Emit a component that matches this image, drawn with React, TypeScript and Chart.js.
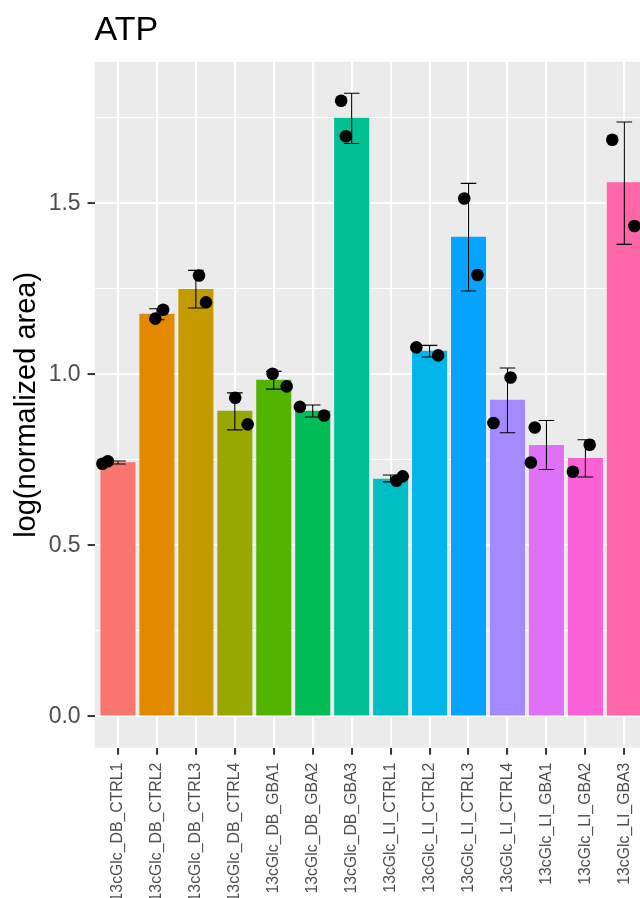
import React, { useEffect, useRef } from "react";
import { Chart, registerables } from "chart.js";

Chart.register(...registerables);

// ---------- data ----------
const categories = [
  "13cGlc_DB_CTRL1",
  "13cGlc_DB_CTRL2",
  "13cGlc_DB_CTRL3",
  "13cGlc_DB_CTRL4",
  "13cGlc_DB_GBA1",
  "13cGlc_DB_GBA2",
  "13cGlc_DB_GBA3",
  "13cGlc_LI_CTRL1",
  "13cGlc_LI_CTRL2",
  "13cGlc_LI_CTRL3",
  "13cGlc_LI_CTRL4",
  "13cGlc_LI_GBA1",
  "13cGlc_LI_GBA2",
  "13cGlc_LI_GBA3",
];

const barColors = [
  "#F8766D", "#E38900", "#C49A00", "#99A800", "#53B400", "#00BC56", "#00C094",
  "#00BFC4", "#00B6EB", "#06A4FF", "#A58AFF", "#DF70F8", "#FB61D7", "#FF66A8",
];

const means = [0.743, 1.1775, 1.25, 0.894, 0.9845, 0.894, 1.7506, 0.695, 1.069, 1.4026, 0.926, 0.7935, 0.7555, 1.5614];
const errLow = [0.738, 1.16, 1.194, 0.838, 0.957, 0.8755, 1.675, 0.686, 1.051, 1.244, 0.8295, 0.722, 0.7, 1.38];
const errHigh = [0.747, 1.192, 1.304, 0.946, 1.009, 0.9105, 1.822, 0.706, 1.085, 1.5585, 1.0187, 0.8655, 0.809, 1.738];

const pointsA = [0.739, 1.163, 1.289, 0.932, 1.002, 0.905, 1.8, 0.689, 1.079, 1.514, 0.858, 0.845, 0.7155, 1.686];
const jitterA = [-0.4, -0.04, 0.08, 0.01, -0.03, -0.33, -0.27, 0.15, -0.34, -0.11, -0.36, -0.3, -0.32, -0.31];
const pointsB = [0.746, 1.189, 1.2105, 0.854, 0.965, 0.88, 1.696, 0.702, 1.0556, 1.2906, 0.991, 0.7427, 0.7945, 1.434];
const jitterB = [-0.26, 0.16, 0.26, 0.33, 0.33, 0.29, -0.15, 0.31, 0.22, 0.23, 0.08, -0.4, 0.11, 0.26];

const yMajorTicks = [0, 0.5, 1.0, 1.5];
const yMajorLabels = ["0.0", "0.5", "1.0", "1.5"];
const yMinorTicks = [0.25, 0.75, 1.25, 1.75];
const yMin = -0.0911;
const yMax = 1.9132;

const titleText = "ATP";
const yTitleText = "log(normalized area)";

// ---------- styling ----------
const FONT = "'Liberation Sans', Arial, Helvetica, sans-serif";
const CANVAS_W = 660;
const CANVAS_H = 960;

const ggPlugin = {
  id: "ggStyle",
  beforeDraw(chart: any) {
    const { ctx, chartArea: a } = chart;
    ctx.save();
    ctx.fillStyle = "#EBEBEB";
    ctx.fillRect(a.left, a.top, a.right - a.left, a.bottom - a.top);
    ctx.restore();
  },
  afterDatasetDraw(chart: any, args: any) {
    if (args.index !== 0) return;
    const { ctx, chartArea: a } = chart;
    const xs = chart.scales.x;
    const ys = chart.scales.y;
    ctx.save();
    ctx.beginPath();
    ctx.rect(a.left, a.top, a.right - a.left, a.bottom - a.top);
    ctx.clip();
    ctx.strokeStyle = "#000000";
    ctx.lineWidth = 1.1;
    ctx.beginPath();
    categories.forEach((_, i) => {
      const xc = xs.getPixelForValue(i + 1);
      const xl = xs.getPixelForValue(i + 1 - 0.2);
      const xr = xs.getPixelForValue(i + 1 + 0.2);
      const yh = ys.getPixelForValue(errHigh[i]);
      const yl = ys.getPixelForValue(errLow[i]);
      ctx.moveTo(xl, yh);
      ctx.lineTo(xr, yh);
      ctx.moveTo(xc, yh);
      ctx.lineTo(xc, yl);
      ctx.moveTo(xl, yl);
      ctx.lineTo(xr, yl);
    });
    ctx.stroke();
    ctx.restore();
  },
  afterDraw(chart: any) {
    const { ctx, chartArea: a } = chart;
    ctx.save();
    ctx.fillStyle = "#000000";
    ctx.font = `34px ${FONT}`;
    ctx.textAlign = "left";
    ctx.textBaseline = "alphabetic";
    ctx.fillText(titleText, a.left, a.top - 22);
    ctx.translate(34.8, (a.top + a.bottom) / 2);
    ctx.rotate(-Math.PI / 2);
    ctx.font = `29px ${FONT}`;
    ctx.textAlign = "center";
    ctx.fillText(yTitleText, 0, 0);
    ctx.restore();
  },
};

export default function App() {
  const canvasRef = useRef<HTMLCanvasElement | null>(null);

  useEffect(() => {
    if (!canvasRef.current) return;
    const barData = categories.map((_, i) => ({ x: i + 1, y: means[i] }));
    const pointData: { x: number; y: number }[] = [];
    categories.forEach((_, i) => {
      pointData.push({ x: i + 1 + jitterA[i], y: pointsA[i] });
      pointData.push({ x: i + 1 + jitterB[i], y: pointsB[i] });
    });
    const isMajor = (v: number) => yMajorTicks.includes(v);

    const chart = new Chart(canvasRef.current, {
      type: "bar",
      data: {
        datasets: [
          {
            type: "bar",
            data: barData,
            backgroundColor: barColors,
            borderWidth: 0,
            categoryPercentage: 0.9,
            barPercentage: 1.0,
            order: 1,
          } as any,
          {
            type: "scatter",
            data: pointData,
            backgroundColor: "#000000",
            borderWidth: 0,
            pointRadius: 6.3,
            order: 0,
          } as any,
        ],
      },
      options: {
        animation: false,
        responsive: false,
        devicePixelRatio: 1,
        layout: { padding: { top: 62, left: 0, right: 12.3, bottom: 0 } },
        plugins: { legend: { display: false }, tooltip: { enabled: false }, title: { display: false } },
        scales: {
          x: {
            type: "linear",
            min: 0.4,
            max: categories.length + 0.6,
            offset: false,
            afterBuildTicks: (s: any) => {
              s.ticks = categories.map((_, i) => ({ value: i + 1 }));
            },
            afterFit: (s: any) => {
              s.height = CANVAS_H - 747.7;
            },
            grid: {
              offset: false,
              color: "#FFFFFF",
              lineWidth: 2.1,
              tickColor: "#333333",
              tickWidth: 2,
              tickLength: 7,
            },
            border: { display: false },
            ticks: {
              autoSkip: false,
              minRotation: 90,
              maxRotation: 90,
              padding: 8,
              color: "#4D4D4D",
              font: { family: FONT, size: 15.8 },
              callback: (v: any) => categories[Math.round(Number(v)) - 1] ?? "",
            },
          } as any,
          y: {
            type: "linear",
            min: yMin,
            max: yMax,
            afterBuildTicks: (s: any) => {
              s.ticks = [...yMajorTicks, ...yMinorTicks].sort((p, q) => p - q).map((v) => ({ value: v }));
            },
            afterFit: (s: any) => {
              s.width = 94.6;
            },
            grid: {
              color: "#FFFFFF",
              lineWidth: (c: any) => (isMajor(c.tick?.value) ? 2.1 : 1.1),
              tickColor: (c: any) => (isMajor(c.tick?.value) ? "#333333" : "rgba(0,0,0,0)"),
              tickWidth: 2,
              tickLength: 7,
            },
            border: { display: false },
            ticks: {
              padding: 7,
              color: "#4D4D4D",
              font: { family: FONT, size: 23 },
              callback: (v: any) => {
                const idx = yMajorTicks.indexOf(Number(v));
                return idx >= 0 ? yMajorLabels[idx] : "";
              },
            },
          } as any,
        },
      },
      plugins: [ggPlugin],
    });
    return () => chart.destroy();
  }, []);

  return (
    <div
      style={{
        position: "fixed",
        left: 0,
        top: 0,
        width: 640,
        height: 898,
        overflow: "hidden",
        background: "#FFFFFF",
      }}
    >
      <canvas
        ref={canvasRef}
        width={CANVAS_W}
        height={CANVAS_H}
        style={{ display: "block", width: CANVAS_W, height: CANVAS_H }}
      />
    </div>
  );
}
